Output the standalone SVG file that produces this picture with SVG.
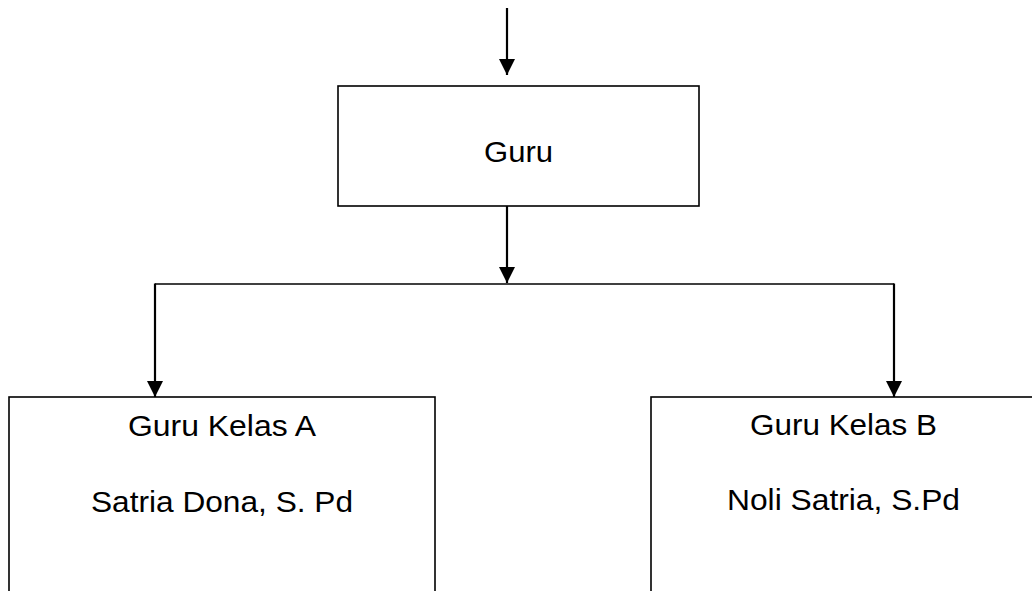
<svg xmlns="http://www.w3.org/2000/svg" width="1032" height="591" viewBox="0 0 1032 591">
  <style>
    .box { fill: #ffffff; stroke: #000000; stroke-width: 1.6; }
    .lbl { font-family: "Liberation Sans", Arial, sans-serif; font-size: 30px; fill: #000000; text-anchor: middle; }
    .arrow { stroke: #000000; stroke-width: 2.2; fill: none; marker-end: url(#head); }
    .plain { stroke: #000000; stroke-width: 1.6; fill: none; }
  </style>
  <defs>
    <marker id="head" markerUnits="userSpaceOnUse" viewBox="0 0 16 16" markerWidth="16" markerHeight="16" refX="16" refY="8" orient="auto">
      <path d="M0,0 L16,8 L0,16 z" fill="#000000"/>
    </marker>
  </defs>
  <rect width="1032" height="591" fill="#ffffff"/>
  <g id="connectors">
    <line class="arrow" x1="507" y1="8" x2="507" y2="75"/>
    <line class="arrow" x1="507" y1="206" x2="507" y2="283"/>
    <line class="plain" x1="155" y1="284" x2="894" y2="284"/>
    <line class="arrow" x1="155" y1="283.5" x2="155" y2="397"/>
    <line class="arrow" x1="894" y1="283.5" x2="894" y2="397"/>
  </g>
  <g id="guru">
    <rect class="box" x="338" y="86" width="361" height="120"/>
    <text class="lbl" x="518.5" y="162" textLength="69" lengthAdjust="spacingAndGlyphs">Guru</text>
  </g>
  <g id="guru-kelas-a">
    <rect class="box" x="9" y="397" width="426" height="220"/>
    <text class="lbl" x="222" y="436" textLength="188" lengthAdjust="spacingAndGlyphs">Guru Kelas A</text>
    <text class="lbl" x="222" y="512" textLength="262" lengthAdjust="spacingAndGlyphs">Satria Dona, S. Pd</text>
  </g>
  <g id="guru-kelas-b">
    <rect class="box" x="651" y="397" width="400" height="220"/>
    <text class="lbl" x="843.5" y="435" textLength="187" lengthAdjust="spacingAndGlyphs">Guru Kelas B</text>
    <text class="lbl" x="843.5" y="510" textLength="233" lengthAdjust="spacingAndGlyphs">Noli Satria, S.Pd</text>
  </g>
</svg>
